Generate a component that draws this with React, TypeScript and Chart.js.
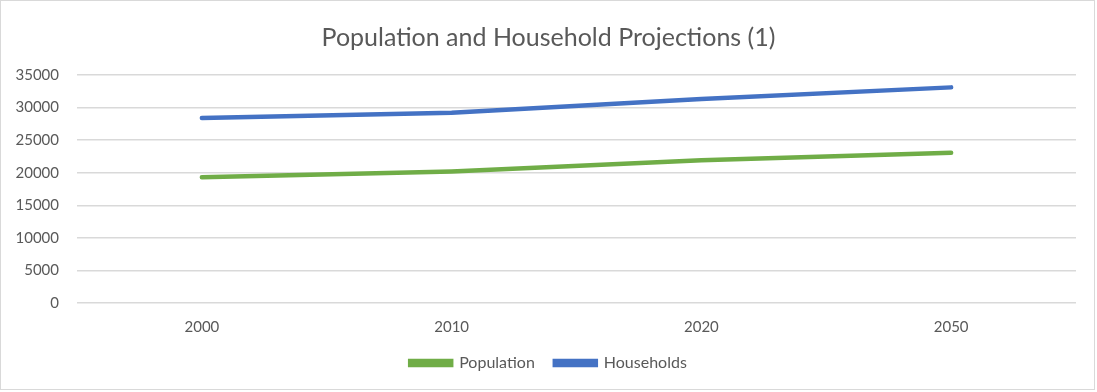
import React, { useEffect, useRef } from "react";
import { Chart, registerables } from "chart.js";

Chart.register(...registerables);

const years = ["2000", "2010", "2020", "2050"];
const population = [19300, 20200, 21900, 23050];
const households = [28400, 29200, 31300, 33100];
const titleText = "Population and Household Projections (1)";

const FONT = "Lato, 'Open Sans', sans-serif";
const TEXT = "#595959";

const borderPlugin = {
  id: "outerBorder",
  beforeDraw(chart: any) {
    const { ctx, width, height } = chart;
    ctx.save();
    ctx.fillStyle = "#ffffff";
    ctx.fillRect(0, 0, width, height);
    ctx.strokeStyle = "#d9d9d9";
    ctx.lineWidth = 1;
    ctx.strokeRect(0.5, 0.5, width - 3, height - 3);
    ctx.restore();
  },
};

export default function App() {
  const ref = useRef<HTMLCanvasElement>(null);
  useEffect(() => {
    document.body.style.margin = "0";
    const chart = new Chart(ref.current!, {
      type: "line",
      data: {
        labels: years,
        datasets: [
          {
            label: "Population",
            data: population,
            borderColor: "#70ad47",
            backgroundColor: "#70ad47",
            borderWidth: 4.5,
            pointRadius: 0,
            tension: 0,
            borderCapStyle: "round",
          },
          {
            label: "Households",
            data: households,
            borderColor: "#4472c4",
            backgroundColor: "#4472c4",
            borderWidth: 4.5,
            pointRadius: 0,
            tension: 0,
            borderCapStyle: "round",
          },
        ],
      },
      options: {
        animation: false,
        responsive: false,
        maintainAspectRatio: false,
        layout: { padding: { top: 0, right: 0, bottom: 11, left: 0 } },
        plugins: {
          title: {
            display: true,
            text: titleText,
            color: TEXT,
            font: { family: FONT, size: 25, weight: "normal" },
            padding: { top: 23, bottom: 22 },
          },
          legend: {
            position: "bottom",
            labels: {
              color: TEXT,
              font: { family: FONT, size: 16 },
              boxWidth: 41,
              boxHeight: 4,
              padding: 20,
            },
          },
          tooltip: { enabled: false },
        },
        scales: {
          x: {
            offset: true,
            afterFit(scale: any) {
              scale.height = 32;
            },
            grid: { display: false, drawTicks: false },
            border: { display: false },
            ticks: { color: TEXT, font: { family: FONT, size: 15 }, padding: 15 },
          },
          y: {
            min: 0,
            max: 35000,
            afterFit(scale: any) {
              scale.width = 77;
            },
            grid: { color: "#d9d9d9", lineWidth: 1.5, drawTicks: false },
            border: { display: false },
            ticks: {
              stepSize: 5000,
              color: TEXT,
              font: { family: FONT, size: 15 },
              padding: 18,
              callback: (v: any) => String(v),
            },
          },
          yRightSpace: {
            position: "right",
            display: true,
            afterFit(scale: any) {
              scale.width = 21;
            },
            grid: { display: false, drawTicks: false },
            border: { display: false },
            ticks: { display: false },
          },
        },
      },
      plugins: [borderPlugin],
    });
    return () => chart.destroy();
  }, []);
  return (
    <div style={{ width: 1097, height: 392 }}>
      <canvas ref={ref} width={1097} height={392} />
    </div>
  );
}
